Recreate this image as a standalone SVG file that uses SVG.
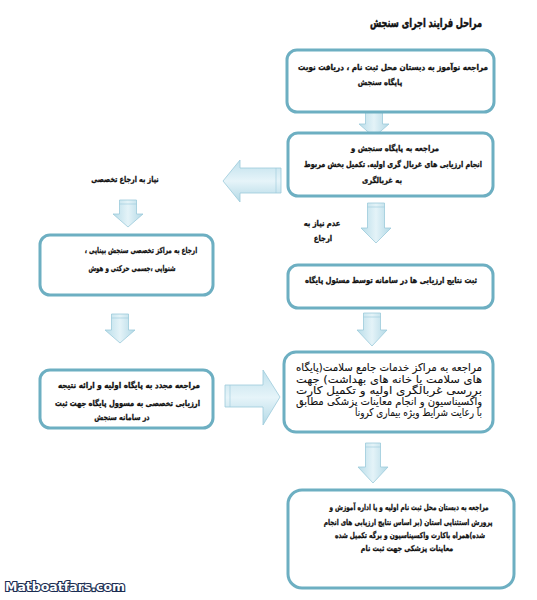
<svg xmlns="http://www.w3.org/2000/svg" width="537" height="600" viewBox="0 0 537 600">
<defs>
<style>
.box{fill:#fff;stroke:#6dafc2;stroke-width:3}
.t{font-family:"DejaVu Sans",sans-serif;font-weight:bold;font-size:8px;fill:#111;stroke:#111;stroke-width:0.3;direction:rtl;unicode-bidi:embed;text-anchor:middle}
.j{text-anchor:start}
.r{font-family:"DejaVu Sans",sans-serif;font-size:10.5px;fill:#111;stroke:#111;stroke-width:0.1;direction:rtl;unicode-bidi:embed;text-anchor:start}
.arr{fill:url(#gv);stroke:#9ccadb;stroke-width:0.8}
.arrh{fill:url(#gh);stroke:#9ccadb;stroke-width:0.8}
.band{fill:none;stroke:#9ccadb;stroke-width:0.6}
</style>
<linearGradient id="gv" x1="0" y1="0" x2="1" y2="0">
<stop offset="0" stop-color="#b9dde9"/><stop offset="0.5" stop-color="#e4f3f8"/><stop offset="1" stop-color="#b3d9e6"/>
</linearGradient>
<linearGradient id="gh" x1="0" y1="0" x2="0" y2="1">
<stop offset="0" stop-color="#bfe0ec"/><stop offset="0.5" stop-color="#e6f4f9"/><stop offset="1" stop-color="#b3d9e6"/>
</linearGradient>
</defs>
<rect width="537" height="600" fill="#fff"/>
<text class="t j" x="482" y="27" style="font-size:12px;stroke-width:0.5" textLength="112" lengthAdjust="spacingAndGlyphs">مراحل فرایند اجرای سنجش</text>

<g id="connectors">
<path class="arr" d="M365.5,110 H382.5 V124 H389 L374,137 L359,124 H365.5 Z"/>
<path class="arr" d="M367.5,203 H384.5 V228 H391 L376,243 L361,228 H367.5 Z"/>
<path class="band" d="M367.5,207 H384.5"/>
<path class="arr" d="M363.5,313 H380.5 V330 H387 L372,346 L357,330 H363.5 Z"/>
<path class="band" d="M363.5,317 H380.5"/>
<path class="arr" d="M365.5,443 H380.5 V467 H388 L373,483 L358,467 H365.5 Z"/>
<path class="band" d="M365.5,447 H380.5"/>
<path class="arr" d="M119.5,200 H136.5 V214 H143 L128,227 L113,214 H119.5 Z"/>
<path class="band" d="M119.5,204 H136.5"/>
<path class="arr" d="M111.5,314 H128.5 V330 H135 L120,343 L105,330 H111.5 Z"/>
<path class="band" d="M111.5,318 H128.5"/>
<path class="arrh" d="M281,168 V193 H240 V202 L223,181 L240,160 V168 Z"/>
<path class="band" d="M276,168 V193"/>
<path class="arrh" d="M225,385 V407 H263 V425 L280,397 L263,370 V385 Z"/>
<path class="band" d="M230,385 V407"/>
<text class="t" transform="translate(125,182) scale(0.8,1)">نیاز به ارجاع تخصصی</text>
<text class="t" transform="translate(322,226) scale(0.85,1)">عدم نیاز به</text>
<text class="t" transform="translate(323,241) scale(0.85,1)">ارجاع</text>
</g>

<g id="n1">
<rect class="box" x="287" y="50" width="207" height="62" rx="10"/>
<text class="t j" x="488" y="70" textLength="190" lengthAdjust="spacingAndGlyphs">مراجعه نوآموز به  دبستان محل ثبت نام ،  دریافت نوبت</text>
<text class="t" transform="translate(380,85) scale(0.85,1)">پایگاه سنجش</text>
</g>

<g id="n2">
<rect class="box" x="288" y="133" width="205" height="63" rx="10"/>
<text class="t" transform="translate(395,151) scale(0.87,1)">مراجعه به  پایگاه سنجش و</text>
<text class="t j" x="482" y="167" textLength="178" lengthAdjust="spacingAndGlyphs">انجام ارزیابی های غربال گری اولیه. تکمیل بخش مربوط</text>
<text class="t" transform="translate(382,183) scale(0.85,1)">به غربالگری</text>
</g>

<g id="n3">
<rect class="box" x="288" y="265" width="205" height="43" rx="10"/>
<text class="t j" x="477" y="283" textLength="172" lengthAdjust="spacingAndGlyphs">ثبت نتایج ارزیابی ها در سامانه توسط مسئول پایگاه</text>
</g>

<g id="n4">
<rect class="box" x="284" y="352" width="209" height="80" rx="12"/>
<text class="r" x="482" y="371" textLength="186" lengthAdjust="spacingAndGlyphs">مراجعه به مراکز خدمات جامع سلامت(پایگاه</text>
<text class="r" x="482" y="383" textLength="186" lengthAdjust="spacingAndGlyphs">های سلامت یا خانه های بهداشت) جهت</text>
<text class="r" x="482" y="394" textLength="186" lengthAdjust="spacingAndGlyphs">بررسی غربالگری اولیه و تکمیل کارت</text>
<text class="r" x="482" y="405" textLength="186" lengthAdjust="spacingAndGlyphs">واکسیناسیون و انجام معاینات پزشکی مطابق</text>
<text class="r" x="482" y="416" textLength="127" lengthAdjust="spacingAndGlyphs">با رعایت شرایط ویژه بیماری کرونا</text>
</g>

<g id="n5">
<rect class="box" x="288" y="490" width="226" height="98" rx="14"/>
<text class="t" transform="translate(409,510) scale(0.72,1)">مراجعه به دبستان محل ثبت نام اولیه و یا اداره آموزش و</text>
<text class="t" transform="translate(408,525) scale(0.74,1)">پرورش استثنایی استان (بر اساس نتایج ارزیابی های انجام</text>
<text class="t" transform="translate(410,538) scale(0.74,1)">شده)همراه  باکارت واکسیناسیون و برگه تکمیل شده</text>
<text class="t" transform="translate(407,551) scale(0.8,1)">معاینات پزشکی جهت ثبت نام</text>
</g>

<g id="n6">
<rect class="box" x="40" y="235" width="173" height="60" rx="10"/>
<text class="t" transform="translate(141,253) scale(0.72,1)">ارجاع به مراکز تخصصی سنجش بینایی ،</text>
<text class="t" transform="translate(132,271) scale(0.7,1)">شنوایی ،جسمی حرکتی و هوش</text>
</g>

<g id="n7">
<rect class="box" x="40" y="370" width="173" height="58" rx="10"/>
<text class="t j" x="200" y="388" textLength="142" lengthAdjust="spacingAndGlyphs">مراجعه مجدد به پایگاه اولیه و ارائه نتیجه</text>
<text class="t j" x="200" y="406" textLength="145" lengthAdjust="spacingAndGlyphs">ارزیابی تخصصی به  مسوول پایگاه جهت ثبت</text>
<text class="t" transform="translate(122,420) scale(0.8,1)">در سامانه سنجش</text>
</g>

<text x="5" y="591" font-family="Verdana,'DejaVu Sans',sans-serif" font-weight="bold" font-size="12" fill="#fff" stroke="#1b2d52" stroke-width="2.2" paint-order="stroke" textLength="120" lengthAdjust="spacingAndGlyphs">Matboatfars.com</text>
</svg>
